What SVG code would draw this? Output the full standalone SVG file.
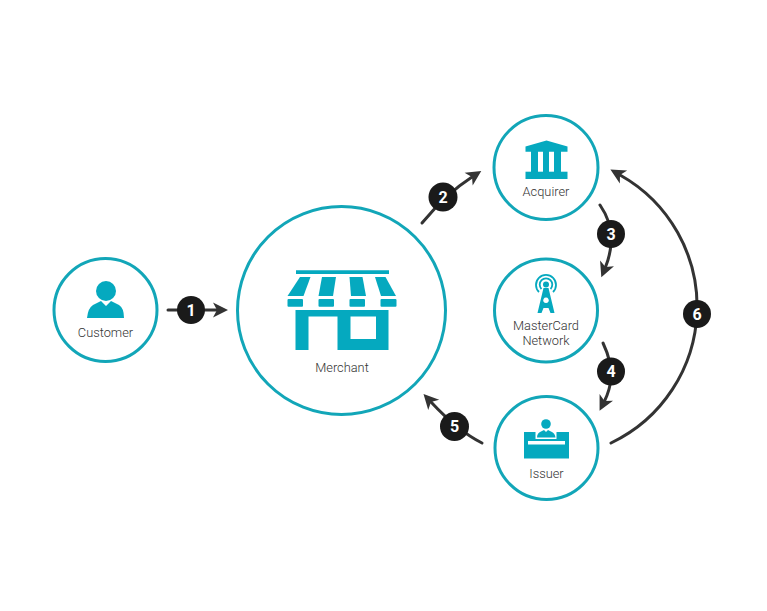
<svg xmlns="http://www.w3.org/2000/svg" width="767" height="611" viewBox="0 0 767 611">
<style>
.ring{fill:#fff;stroke:#12a6b8;stroke-width:3}
.ic{fill:#05a9bf}
.lb{font-family:Roboto,"Open Sans",sans-serif;font-size:12.800px;font-weight:300;fill:#333;text-anchor:middle}
.ln{fill:none;stroke:#333;stroke-width:3;stroke-linecap:round;marker-end:url(#ah)}
.bd{fill:#1a1a1a}
.bt{font-family:Roboto,"DejaVu Sans",sans-serif;font-size:16px;font-weight:700;fill:#fff;text-anchor:middle}
</style>
<defs>
<marker id="ah" markerUnits="userSpaceOnUse" markerWidth="20" markerHeight="20" refX="5" refY="10" orient="auto" viewBox="0 0 20 20">
<path d="M1 2.500L16 10L1 17.500L5 10Z" fill="#333"/>
</marker>
</defs>
<rect width="767" height="611" fill="#fff"/>
<g id="connectors">
<path class="ln" d="M168 310H217"/>
<path class="ln" d="M422 223Q447 193 472 177"/>
<path class="ln" d="M600 205Q613 224 611 244Q610 256 605.500 267"/>
<path class="ln" d="M603 343Q612 362 611 378Q610 390 604.500 401"/>
<path class="ln" d="M482 443Q458 431 431 402"/>
<path class="ln" d="M611 443A151 151 0 0 0 620 175"/>
</g>
<g id="customer">
<circle class="ring" cx="105.500" cy="310" r="51.500"/>
<circle class="ic" cx="106" cy="291" r="10"/>
<path class="ic" d="M87 318Q88 308 93 305L101 301L106 306L111 301L119 305Q124 308 124 318Z"/>
<text class="lb" x="105.500" y="337">Customer</text>
</g>
<g id="merchant">
<circle class="ring" cx="341.500" cy="310.500" r="104"/>
<path class="ic" d="M296 270.300H389V274H296Z"/>
<path class="ic" d="M300 277H310.500L303.500 296H287.500Z"/>
<path class="ic" d="M322 277H336L333 296H318.500Z"/>
<path class="ic" d="M349.500 277H362.500L366 296H351Z"/>
<path class="ic" d="M375 277H385.500L396 296H381Z"/>
<rect class="ic" x="287.500" y="299" width="15.500" height="7.700" rx="1"/>
<rect class="ic" x="318.500" y="299" width="15.500" height="7.700" rx="1"/>
<rect class="ic" x="349.500" y="299" width="15.500" height="7.700" rx="1"/>
<rect class="ic" x="380.500" y="299" width="16" height="7.700" rx="1"/>
<path class="ic" fill-rule="evenodd" d="M295.500 310H388.500V350H337.500V316.500H308.500V350H295.500ZM350.500 316.500V339H376V316.500Z"/>
<text class="lb" x="342" y="372">Merchant</text>
</g>
<g id="acquirer">
<circle class="ring" cx="546" cy="167.500" r="52"/>
<path class="ic" d="M525.500 146.500L546.500 140.500L567.500 146.500V151.700H525.500Z"/>
<rect class="ic" x="531" y="151" width="7" height="22"/>
<rect class="ic" x="543" y="151" width="6" height="22"/>
<rect class="ic" x="554" y="151" width="7" height="22"/>
<rect class="ic" x="525.500" y="171.700" width="42" height="7.300"/>
<text class="lb" x="546" y="196">Acquirer</text>
</g>
<g id="network">
<circle class="ring" cx="546" cy="310.500" r="51.500"/>
<g fill="none" stroke="#05a9bf" stroke-width="1.800">
<path d="M539 292A10 10 0 1 1 553 292"/>
<path d="M541.500 289A6.300 6.300 0 1 1 550.500 289"/>
</g>
<circle class="ic" cx="546" cy="284.500" r="3"/>
<path class="ic" fill-rule="evenodd" d="M543.500 288H548.500L554.500 313H550.500L548.500 308H543.500L541.500 313H537.500ZM546 297.500A2.800 2.800 0 1 0 546.010 297.500Z"/>
<text class="lb" x="546" y="329.500">MasterCard</text>
<text class="lb" x="546" y="344.500">Network</text>
</g>
<g id="issuer">
<circle class="ring" cx="546.500" cy="448" r="51.500"/>
<circle class="ic" cx="546" cy="424" r="4.800"/>
<path class="ic" d="M537 437.500Q537 433 541 431.500L544 430L546 432L548 430L551 431.500Q555 433 555.500 437.500Z"/>
<path class="ic" fill-rule="evenodd" d="M524 432H535.500V439H556.500V432H569V458.500H524ZM528 441V444.500H565V441Z"/>
<text class="lb" x="546.500" y="478">Issuer</text>
</g>
<g id="badges">
<circle class="bd" cx="191" cy="310" r="14"/><text class="bt" x="191" y="315.500">1</text>
<circle class="bd" cx="443" cy="197" r="14.500"/><text class="bt" x="443" y="202.500">2</text>
<circle class="bd" cx="611" cy="234" r="14"/><text class="bt" x="611" y="239.500">3</text>
<circle class="bd" cx="611" cy="371.500" r="14"/><text class="bt" x="611" y="377">4</text>
<circle class="bd" cx="454.500" cy="426.500" r="14.500"/><text class="bt" x="454.500" y="432">5</text>
<circle class="bd" cx="697" cy="314" r="14"/><text class="bt" x="697" y="319.500">6</text>
</g>
</svg>
